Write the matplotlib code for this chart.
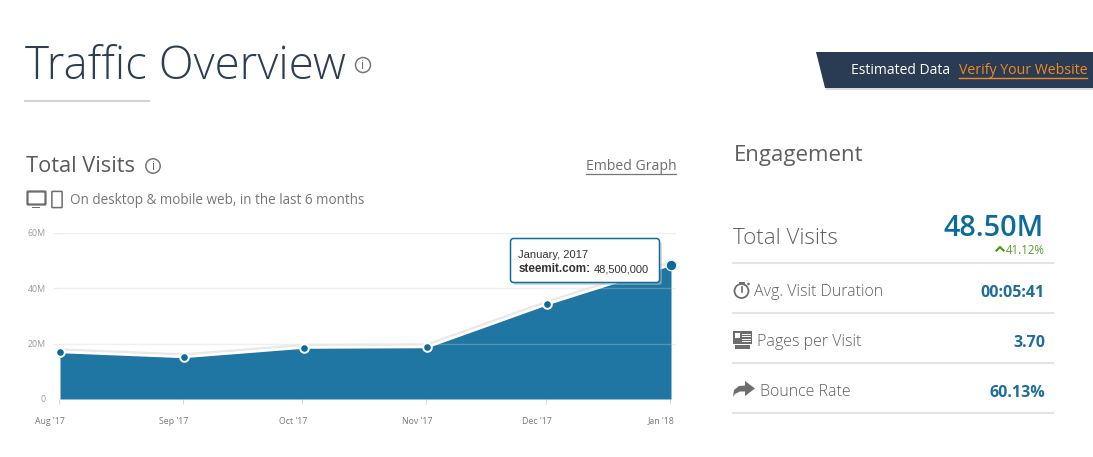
import matplotlib
matplotlib.use("Agg")
import matplotlib.pyplot as plt
import matplotlib.dates as mdates
import pandas as pd
from matplotlib.patches import Circle, FancyBboxPatch, Polygon, Rectangle
from matplotlib.transforms import ScaledTranslation

plt.rcParams['font.family'] = ['Open Sans', 'DejaVu Sans']

months = ["2017-08-01", "2017-09-01", "2017-10-01", "2017-11-01", "2017-12-01", "2018-01-01"]
month_labels = ["Aug '17", "Sep '17", "Oct '17", "Nov '17", "Dec '17", "Jan '18"]
visits = [17.0, 15.2, 18.6, 18.8, 34.3, 48.5]
y_ticks = [0, 20, 40, 60]
y_labels = ["0", "20M", "40M", "60M"]

engagement_labels = ["Avg. Visit Duration", "Pages per Visit", "Bounce Rate"]
engagement_values = ["00:05:41", "3.70", "60.13%"]

W, H = 1093, 457
BLUE = "#1f76a3"
DARK_BLUE = "#0d6a9c"
GREY = "#6d6d6d"

fig = plt.figure(figsize=(W / 100, H / 100), dpi=100)

# chart axes, placed in pixels: 0 at y=399, 60M at y=233
ax = fig.add_axes([54 / W, 1 - 399 / H, (676 - 54) / W, (399 - 233) / H])
dates = pd.to_datetime(months)
x = mdates.date2num(dates)
px_per_day = (671 - 60) / (x[-1] - x[0])
ax.set_xlim(x[0] - 6 / px_per_day, x[-1] + 5 / px_per_day)
ax.set_ylim(0, 60)
for s in ax.spines.values():
    s.set_visible(False)

ax.fill_between(x, visits, 0, color=BLUE, lw=0, zorder=2)
ax.set_yticks(y_ticks, y_labels)
ax.set_xticks(x - 0.3, month_labels)
ax.tick_params(axis='y', length=0, pad=6, labelsize=6.3, labelcolor="#9a9a9a")
ax.tick_params(axis='x', length=3.6, width=0.7, color="#d8d8d8", pad=9, labelsize=6.3, labelcolor="#777777")
# month labels sit about 9px left of their ticks
for label in ax.get_xticklabels():
    label.set_transform(label.get_transform() + ScaledTranslation(-9 / 100, 0, fig.dpi_scale_trans))
ax.grid(axis='y', color="#ececec", lw=1, zorder=1)
ax.set_axisbelow(True)
# the gridlines show faintly through the area
for t in y_ticks[1:]:
    ax.plot([x[0], x[-1]], [t, t], color="white", alpha=0.22, lw=1, zorder=3)

ax.plot(x, [v + 0.9 for v in visits], color="#e9e9e9", lw=1.8, zorder=3, solid_joinstyle='round')
ax.plot(x, visits, color="white", lw=1.8, zorder=4, solid_joinstyle='round')
ax.plot(x[:-1], visits[:-1], ls='none', marker='o', ms=6.2, mfc=DARK_BLUE, mec="white", mew=1.4, zorder=5)
ax.plot(x[-1], visits[-1], ls='none', marker='o', ms=7.6, mfc=DARK_BLUE, mec="white", mew=0.8, zorder=5, clip_on=False)

# overlay in pixel coordinates for everything around the chart
ov = fig.add_axes([0, 0, 1, 1], zorder=10)
ov.set_xlim(0, W)
ov.set_ylim(H, 0)
ov.axis('off')
ov.patch.set_alpha(0)


def info_icon(cx, cy, r, size):
    ov.add_patch(Circle((cx, cy), r, fc="white", ec="#777777", lw=1.1))
    ov.text(cx, cy + 0.3, "i", ha='center', va='center', fontsize=size, color="#666666")


# header
ov.text(25, 67, "Traffic Overview", fontsize=32.9, weight='light', color="#2c3e55", va='center')
info_icon(363, 65, 7.5, 9)
ov.plot([25, 149], [101, 101], color="#d2d2d2", lw=1.5)

# estimated data banner
ov.add_patch(Polygon([[818, 55], [1093, 55], [1093, 90], [826, 90]], fc="#dcdcdc", ec="none"))
ov.add_patch(Polygon([[816, 52], [1093, 52], [1093, 88], [825, 88]], fc="#2a3c54", ec="none"))
ov.text(851, 71, "Estimated Data", fontsize=10, color="white", va='center')
ov.text(959, 71, "Verify Your Website", fontsize=10.15, color="#f08a1d", va='center')
ov.plot([959, 1087], [77.5, 77.5], color="#f08a1d", lw=1)

# left panel
ov.text(26, 166, "Total Visits", fontsize=15.7, color="#5a5a5a", va='center')
info_icon(153, 166, 7.2, 8.5)
ov.text(586, 167, "Embed Graph", fontsize=10.1, color="#6e6e6e", va='center')
ov.plot([586, 676], [174, 174], color="#777777", lw=0.9)
ov.text(70, 201, "On desktop & mobile web, in the last 6 months", fontsize=9.75, color="#777777", va='center')

# desktop and phone icons
ov.add_patch(FancyBboxPatch((28, 192), 17, 12, boxstyle="round,pad=0.5", fc="white", ec=GREY, lw=1.6))
ov.add_patch(Rectangle((32, 206.5), 8, 1.6, fc=GREY, ec="none"))
ov.add_patch(FancyBboxPatch((52.5, 192), 9, 15, boxstyle="round,pad=0.6", fc="white", ec=GREY, lw=1.1))

# tooltip
ov.add_patch(FancyBboxPatch((513, 242), 149, 43, boxstyle="round,pad=0,rounding_size=3", fc="#bbbbbb", ec="none", alpha=0.55))
ov.add_patch(FancyBboxPatch((510.5, 238.5), 149, 44, boxstyle="round,pad=0,rounding_size=3", fc="white", ec="#0f6d9f", lw=1.1))
ov.text(518.5, 254.5, "January, 2017", fontsize=8, family="Liberation Sans", color="#333333", va='center')
ov.text(518.5, 269, "steemit.com:", fontsize=8.4, family="Liberation Sans", weight='bold', color="#333333", va='center')
ov.text(594, 269, "48,500,000", fontsize=8, family="Liberation Sans", color="#333333", va='center')

# engagement panel
ov.text(734, 155, "Engagement", fontsize=16, color="#5f5f5f", va='center')
ov.text(733, 238, "Total Visits", fontsize=16, weight='light', color="#5f5f5f", va='center')
ov.text(1044, 228, "48.50M", fontsize=20.7, weight='semibold', color=DARK_BLUE, va='center', ha='right')
ov.plot([996.5, 1000, 1003.5], [250.5, 247, 250.5], color="#4f9a10", lw=1.6)
ov.text(1045, 250, "41.12%", fontsize=8.3, color="#5aa02c", va='center', ha='right')

row_y = [292, 342, 392]
label_x = [754, 757, 760]
for i, label in enumerate(engagement_labels):
    ov.text(label_x[i], row_y[i], label, fontsize=11.5, weight='light', color="#5f5f5f", va='center')
    ov.text(1045, row_y[i] + 1, engagement_values[i], fontsize=11.5, weight='bold', color="#1f6d9c", va='center', ha='right')
for y in [263, 313, 363, 413]:
    ov.plot([733, 1053], [y, y], color="#e4e4e4", lw=1.5)

# stopwatch icon
ov.add_patch(Circle((741.5, 291), 7, fc="white", ec=GREY, lw=1.3))
ov.plot([741.5, 741.5], [287, 292], color=GREY, lw=1.2)
ov.plot([739.5, 743.5], [282.5, 282.5], color=GREY, lw=1.4)
ov.add_patch(Circle((748.5, 284), 1.3, fc=GREY, ec="none"))

# pages icon
ov.add_patch(Rectangle((733, 331), 19, 13, fc=GREY, ec="none"))
ov.add_patch(Rectangle((735, 333), 5, 5, fc="white", ec="none"))
for y in [333.5, 336, 338.5, 341]:
    ov.plot([741.5, 750], [y, y], color="white", lw=0.7)
ov.add_patch(Rectangle((735, 345), 15, 3.5, fc=GREY, ec="none"))

# bounce arrow icon
ov.add_patch(Polygon([[733, 397], [734, 390], [739, 386], [745, 385.5], [745, 381], [755, 388.5],
                      [745, 396], [745, 391.5], [740, 391.5], [735, 394]], fc=GREY, ec="none"))

fig.savefig("out.png", dpi=100)
